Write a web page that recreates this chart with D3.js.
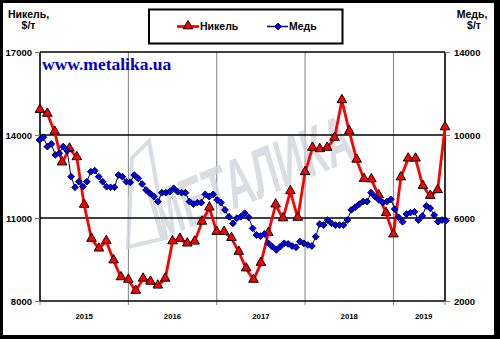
<!DOCTYPE html>
<html>
<head>
<meta charset="utf-8">
<script src="https://cdn.jsdelivr.net/npm/d3@7"></script>
<style>
  html, body { margin: 0; padding: 0; background: #fff; }
  svg { display: block; font-family: "Liberation Sans", Arial, sans-serif; }
</style>
</head>
<body>
<svg id="chart" width="500" height="339"></svg>
<script>
// Monthly nickel price, $/t (Jan 2015 – Aug 2019)
const nickel = [
  14900, 14760, 14110, 13000, 13500, 13190, 11470, 10240, 9890, 10160, 9460, 8850,
  8760, 8360, 8800, 8690, 8550, 8800, 10150, 10240, 10070, 10140, 10860, 11370,
  10490, 10490, 10270, 9770, 9170, 8760, 9370, 10450, 11480, 10980, 11960, 11000,
  12650, 13530, 13480, 13530, 13890, 15250, 14130, 13100, 12400, 12390, 11810, 11170,
  10400, 12460, 13140, 13140, 12150, 11790, 12000, 14270
];

// Copper price, $/t (twice-monthly readings over the same period)
const copper = [
  9760, 9890, 9440, 9570, 9040, 9120, 9440, 9240, 7990, 7480, 7750, 7510, 7750,
  8230, 8280, 7990, 7750, 7510, 7480, 7480, 8070, 7990, 7750, 7720, 8070, 7910,
  7640, 7350, 7190, 7030, 6790, 7220, 7220, 7270, 7430, 7270, 7220, 7220, 6790,
  6670, 6740, 6740, 7140, 7030, 7140, 6870, 6740, 6390, 6060, 5740, 5990, 6060,
  6230, 6030, 5500, 5180, 5130, 5230, 4780, 4620, 4460, 4620, 4780, 4750, 4650,
  4590, 4860, 4780, 4700, 4650, 5100, 5710, 5660, 5900, 5740, 5660, 5660, 5660,
  5900, 6390, 6520, 6670, 6790, 6790, 7220, 7030, 6870, 6740, 6790, 6900, 6430,
  6030, 5820, 6190, 6260, 6300, 5900, 6100, 6580, 6470, 6140, 5820, 5900, 5870
];

const years = ["2015", "2016", "2017", "2018", "2019"];
const yearStartMonth = [12, 24, 36, 48];          // month index of each new year
const yearLabelMonth = [6, 18, 30, 42, 52.1];      // month index where each year label sits
const leftTicks = [8000, 11000, 14000, 17000];
const rightTicks = [2000, 6000, 10000, 14000];
const seriesNames = ["Никель", "Медь"];

const svg = d3.select("#chart");
const W = 500, H = 339;
const plot = { left: 40, right: 445, top: 52, bottom: 301 };

// Frame around the whole picture
svg.append("rect").attr("x", 0).attr("y", 0).attr("width", W).attr("height", H).attr("fill", "#000");
svg.append("rect").attr("x", 3).attr("y", 3).attr("width", 491).attr("height", 332).attr("fill", "#fff");

const xN = d3.scaleLinear().domain([0, nickel.length - 1]).range([plot.left, plot.right]);
const xC = d3.scaleLinear().domain([0, copper.length - 1]).range([plot.left - 0.5, plot.right + 1]);
const yL = d3.scaleLinear().domain([8000, 17000]).range([plot.bottom, plot.top]);
const yR = d3.scaleLinear().domain([2000, 14000]).range([plot.bottom, plot.top]);

// Year separators
svg.append("g").selectAll("line").data(yearStartMonth).join("line")
  .attr("x1", d => xN(d)).attr("x2", d => xN(d))
  .attr("y1", plot.top).attr("y2", plot.bottom + 4)
  .attr("stroke", "#808080").attr("stroke-width", 1);

// Watermark logo
const wm = svg.append("g").attr("opacity", 0.8);
wm.append("path")
  .attr("d", "M128,247 L132,158 L149,141 L166,238 Z")
  .attr("fill", "none").attr("stroke", "#d2d6dc").attr("stroke-width", 4);
wm.append("text")
  .attr("transform", "translate(160,240) rotate(-22.5)")
  .attr("font-size", 68).attr("font-weight", "bold").attr("font-style", "italic")
  .attr("textLength", 215).attr("lengthAdjust", "spacingAndGlyphs")
  .attr("fill", "#d2d6dc")
  .text("МЕТАЛИКА");

// Horizontal grid lines at left-axis ticks
svg.append("g").selectAll("line").data(leftTicks).join("line")
  .attr("x1", plot.left).attr("x2", plot.right)
  .attr("y1", d => yL(d)).attr("y2", d => yL(d))
  .attr("stroke", "#000").attr("stroke-width", 1.6);

// Plot frame sides
svg.append("line").attr("x1", plot.left).attr("x2", plot.left).attr("y1", plot.top).attr("y2", plot.bottom)
  .attr("stroke", "#000").attr("stroke-width", 1.6);
svg.append("line").attr("x1", plot.right).attr("x2", plot.right).attr("y1", plot.top).attr("y2", plot.bottom)
  .attr("stroke", "#000").attr("stroke-width", 1.6);

// Axes
const axisL = svg.append("g").attr("transform", `translate(${plot.left},0)`)
  .call(d3.axisLeft(yL).tickValues(leftTicks).tickSize(5).tickPadding(3).tickFormat(d3.format("d")));
const axisR = svg.append("g").attr("transform", `translate(${plot.right},0)`)
  .call(d3.axisRight(yR).tickValues(rightTicks).tickSize(5).tickPadding(4).tickFormat(d3.format("d")));
[axisL, axisR].forEach(a => {
  a.attr("font-family", null).attr("font-size", null);
  a.select(".domain").remove();
  a.selectAll(".tick line").attr("stroke", "#808080");
  a.selectAll(".tick text").attr("font-size", 9.5).attr("font-weight", "bold").attr("fill", "#000");
});

// Bottom tick marks at the ends of the axis
svg.append("g").selectAll("line").data([0, nickel.length - 1]).join("line")
  .attr("x1", d => xN(d)).attr("x2", d => xN(d))
  .attr("y1", plot.bottom).attr("y2", plot.bottom + 4)
  .attr("stroke", "#808080");

// Year labels
svg.append("g").selectAll("text").data(years).join("text")
  .attr("x", (d, i) => xN(yearLabelMonth[i])).attr("y", 318.5)
  .attr("text-anchor", "middle").attr("font-size", 7.8).attr("font-weight", "bold")
  .text(d => d);

// Web address
svg.append("text").attr("x", 42).attr("y", 69.5)
  .style("font-family", "'Liberation Serif', 'Times New Roman', serif")
  .attr("font-size", 17.5).attr("font-weight", "bold").attr("fill", "#0000cc")
  .text("www.metalika.ua");

// Axis titles
const titleL = svg.append("text").attr("text-anchor", "middle").attr("font-size", 10.5).attr("font-weight", "bold");
titleL.append("tspan").attr("x", 28.5).attr("y", 17.5).text("Никель,");
titleL.append("tspan").attr("x", 28.5).attr("y", 28.5).text("$/т");
const titleR = svg.append("text").attr("text-anchor", "middle").attr("font-size", 10.5).attr("font-weight", "bold");
titleR.append("tspan").attr("x", 472).attr("y", 17.5).text("Медь,");
titleR.append("tspan").attr("x", 474).attr("y", 29).text("$/т");

// Marker shapes
const triPath = d3.symbol(d3.symbolTriangle, 40)();
const diaPath = d3.symbol(d3.symbolSquare, 23)();

// Nickel series
svg.append("path").datum(nickel)
  .attr("d", d3.line().x((d, i) => xN(i)).y(d => yL(d)))
  .attr("fill", "none").attr("stroke", "#ff0000").attr("stroke-width", 2.8).attr("stroke-linejoin", "round");
svg.append("g").selectAll("path").data(nickel).join("path")
  .attr("d", triPath)
  .attr("transform", (d, i) => `translate(${xN(i)},${yL(d) - 0.5})`)
  .attr("fill", "#ff0000").attr("stroke", "#000").attr("stroke-width", 1);

// Copper series
svg.append("path").datum(copper)
  .attr("d", d3.line().x((d, i) => xC(i)).y(d => yR(d)))
  .attr("fill", "none").attr("stroke", "#000033").attr("stroke-width", 1);
svg.append("g").selectAll("path").data(copper).join("path")
  .attr("d", diaPath)
  .attr("transform", (d, i) => `translate(${xC(i)},${yR(d)}) rotate(45)`)
  .attr("fill", "#0000ff").attr("stroke", "#000022").attr("stroke-width", 0.9);

// Legend
const legend = svg.append("g");
legend.append("rect").attr("x", 149).attr("y", 9.5).attr("width", 193.5).attr("height", 34)
  .attr("fill", "#fff").attr("stroke", "#000").attr("stroke-width", 2);
const ly = 26.5;
legend.append("line").attr("x1", 177).attr("x2", 199).attr("y1", ly).attr("y2", ly)
  .attr("stroke", "#ff0000").attr("stroke-width", 2.8);
legend.append("path").attr("d", triPath).attr("transform", `translate(188,${ly - 0.5})`)
  .attr("fill", "#ff0000").attr("stroke", "#000").attr("stroke-width", 1);
legend.append("text").attr("x", 200).attr("y", ly + 3.8).attr("font-size", 10.5).attr("font-weight", "bold")
  .text(seriesNames[0]);
legend.append("line").attr("x1", 267).attr("x2", 288).attr("y1", ly).attr("y2", ly)
  .attr("stroke", "#000080").attr("stroke-width", 1.5);
legend.append("path").attr("d", diaPath).attr("transform", `translate(278,${ly}) rotate(45)`)
  .attr("fill", "#0000ff").attr("stroke", "#000022").attr("stroke-width", 0.9);
legend.append("text").attr("x", 289).attr("y", ly + 3.8).attr("font-size", 10.5).attr("font-weight", "bold")
  .text(seriesNames[1]);
</script>
</body>
</html>
